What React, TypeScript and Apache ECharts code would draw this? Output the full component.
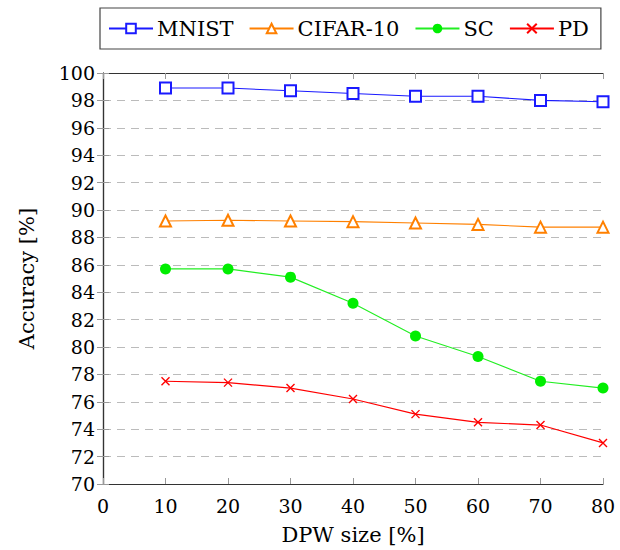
import React, { useEffect, useRef } from "react";
import * as echarts from "echarts";

const dpwSizes = [10, 20, 30, 40, 50, 60, 70, 80];
const mnist = [98.9, 98.9, 98.7, 98.5, 98.3, 98.3, 98.0, 97.9];
const cifar10 = [89.2, 89.25, 89.2, 89.15, 89.05, 88.95, 88.75, 88.75];
const sc = [85.7, 85.7, 85.1, 83.2, 80.8, 79.3, 77.5, 77.0];
const pd = [77.5, 77.4, 77.0, 76.2, 75.1, 74.5, 74.3, 73.0];

const FONT = "DejaVu Serif";
const CROSS = "path://M0,0L10,10M10,0L0,10";

export default function App() {
  const ref = useRef<HTMLDivElement>(null);
  useEffect(() => {
    if (!ref.current) return;
    const chart = echarts.init(ref.current, undefined, { renderer: "svg" });
    const pair = (ys: number[]) => dpwSizes.map((x, i) => [x, ys[i]]);
    const frameAxis = {
      axisLine: { show: true, lineStyle: { color: "#333", width: 1.2 } },
      axisTick: { show: true, inside: true, length: 6, lineStyle: { color: "#999" } },
      axisLabel: { show: false },
      splitLine: { show: false },
    };
    chart.setOption({
      animation: false,
      backgroundColor: "#fff",
      textStyle: { fontFamily: FONT },
      legend: {
        left: 100,
        top: 8,
        width: 510,
        padding: [10, 12, 10, 8],
        itemGap: 15,
        itemWidth: 44,
        itemHeight: 12,
        borderColor: "#444",
        borderWidth: 1.2,
        textStyle: { fontFamily: FONT, fontSize: 21, color: "#000", padding: [0, 0, 0, -1] },
        data: ["MNIST", "CIFAR-10", "SC", "PD"],
      },
      grid: { left: 103, right: 17, top: 73, bottom: 65 },
      xAxis: [
        {
          type: "value",
          min: 0,
          max: 80,
          interval: 10,
          name: "DPW size [%]",
          nameLocation: "middle",
          nameGap: 40,
          nameTextStyle: { fontFamily: FONT, fontSize: 21, color: "#000" },
          ...frameAxis,
          axisLabel: { show: true, fontFamily: FONT, fontSize: 19, color: "#000", margin: 12 },
        },
        { type: "value", position: "top", min: 0, max: 80, interval: 10, ...frameAxis },
      ],
      yAxis: [
        {
          type: "value",
          min: 70,
          max: 100,
          interval: 2,
          name: "Accuracy [%]",
          nameLocation: "middle",
          nameGap: 66,
          nameTextStyle: { fontFamily: FONT, fontSize: 21, color: "#000" },
          ...frameAxis,
          axisLabel: { show: true, fontFamily: FONT, fontSize: 19, color: "#000", margin: 8 },
          splitLine: { show: true, lineStyle: { color: "#bbb", type: [8, 6], width: 1 } },
        },
        { type: "value", position: "right", min: 70, max: 100, interval: 2, ...frameAxis },
      ],
      series: [
        {
          name: "MNIST",
          type: "line",
          data: pair(mnist),
          symbol: "emptyRect",
          symbolSize: 11,
          color: "#1a1aff",
          lineStyle: { color: "#1a1aff", width: 1.1 },
          itemStyle: { color: "#1a1aff", borderWidth: 1.4 },
        },
        {
          name: "CIFAR-10",
          type: "line",
          data: pair(cifar10),
          symbol: "emptyTriangle",
          symbolSize: 11,
          color: "#ff8000",
          lineStyle: { color: "#ff8000", width: 1.1 },
          itemStyle: { color: "#ff8000", borderWidth: 1.4 },
        },
        {
          name: "SC",
          type: "line",
          data: pair(sc),
          symbol: "circle",
          symbolSize: 11,
          color: "#00ee00",
          lineStyle: { color: "#22ee22", width: 1.1 },
          itemStyle: { color: "#00ee00" },
        },
        {
          name: "PD",
          type: "line",
          data: pair(pd),
          symbol: CROSS,
          symbolSize: 8,
          color: "#ff0000",
          lineStyle: { color: "#ff0000", width: 1.1 },
          itemStyle: { color: "transparent", borderColor: "#ff0000", borderWidth: 1.4 },
        },
      ],
    });
    return () => chart.dispose();
  }, []);
  return (
    <div ref={ref} style={{ position: "absolute", left: 0, top: 0, width: 620, height: 550 }} />
  );
}
